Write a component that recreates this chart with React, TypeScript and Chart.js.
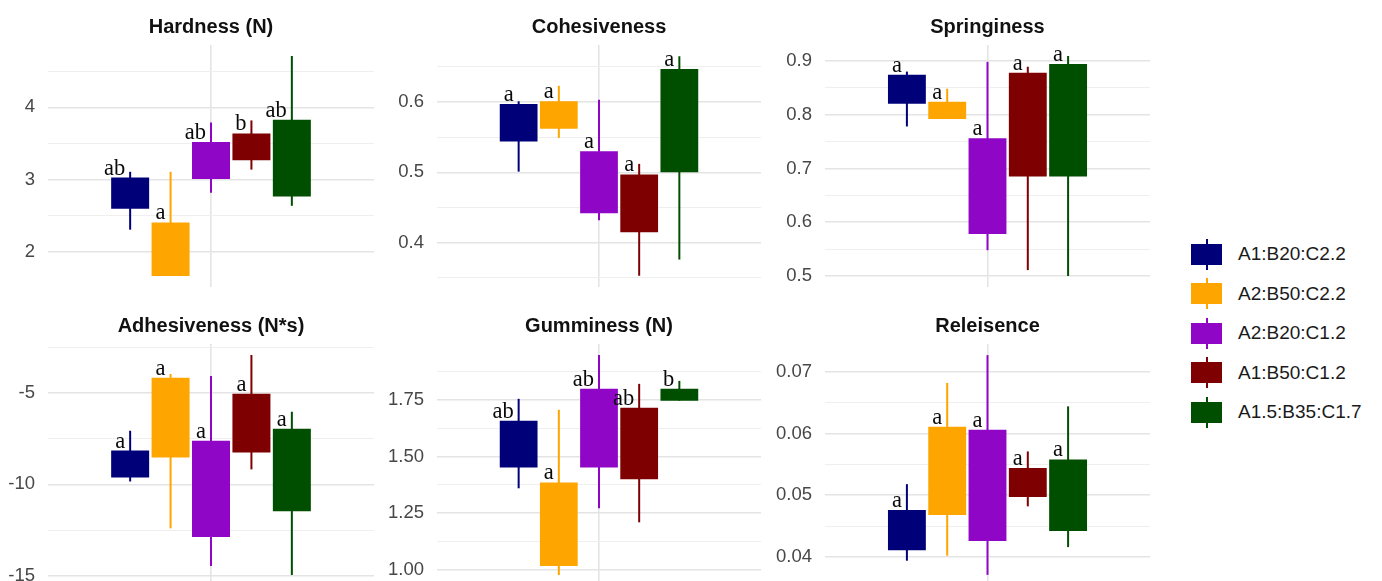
import React, { useEffect, useRef } from 'react';
import { Chart, registerables } from 'chart.js';

Chart.register(...registerables);

// ---------- data ----------
const groups = ['A1:B20:C2.2', 'A2:B50:C2.2', 'A2:B20:C1.2', 'A1:B50:C1.2', 'A1.5:B35:C1.7'];
const colors = ['#000078', '#FFA500', '#8F06C6', '#7F0000', '#004F00'];

const hardnessBox = [[2.60, 3.03], [1.67, 2.41], [3.01, 3.52], [3.27, 3.64], [2.77, 3.83]];
const hardnessWhisker = [[2.31, 3.11], [1.67, 3.11], [2.82, 3.79], [3.14, 3.82], [2.64, 4.71]];
const hardnessLetters = ['ab', 'a', 'ab', 'b', 'ab'];
const hardnessTicks = [2, 3, 4];
const hardnessTickLabels = ['2', '3', '4'];
const hardnessMinor = [2.5, 3.5, 4.5];
const hardnessRange = [1.518, 4.862];

const cohesBox = [[0.544, 0.597], [0.562, 0.601], [0.442, 0.530], [0.415, 0.497], [0.500, 0.647]];
const cohesWhisker = [[0.501, 0.601], [0.549, 0.623], [0.432, 0.603], [0.353, 0.512], [0.376, 0.665]];
const cohesLetters = ['a', 'a', 'a', 'a', 'a'];
const cohesTicks = [0.4, 0.5, 0.6];
const cohesTickLabels = ['0.4', '0.5', '0.6'];
const cohesMinor = [0.35, 0.45, 0.55, 0.65];
const cohesRange = [0.337, 0.681];

const springBox = [[0.820, 0.874], [0.792, 0.824], [0.578, 0.756], [0.685, 0.878], [0.685, 0.894]];
const springWhisker = [[0.778, 0.880], [0.792, 0.848], [0.548, 0.898], [0.511, 0.889], [0.500, 0.909]];
const springLetters = ['a', 'a', 'a', 'a', 'a'];
const springTicks = [0.5, 0.6, 0.7, 0.8, 0.9];
const springTickLabels = ['0.5', '0.6', '0.7', '0.8', '0.9'];
const springMinor = [0.55, 0.65, 0.75, 0.85];
const springRange = [0.4796, 0.9294];

const adhesBox = [[-9.62, -8.15], [-8.53, -4.18], [-12.88, -7.61], [-8.26, -5.05], [-11.47, -6.96]];
const adhesWhisker = [[-9.84, -7.07], [-12.4, -3.97], [-14.46, -4.08], [-9.18, -2.93], [-14.95, -6.03]];
const adhesLetters = ['a', 'a', 'a', 'a', 'a'];
const adhesTicks = [-15, -10, -5];
const adhesTickLabels = ['-15', '-10', '-5'];
const adhesMinor = [-12.5, -7.5, -2.5];
const adhesRange = [-15.55, -2.33];

const gumBox = [[1.452, 1.658], [1.018, 1.386], [1.452, 1.798], [1.40, 1.715], [1.746, 1.798]];
const gumWhisker = [[1.36, 1.754], [0.978, 1.706], [1.272, 1.947], [1.21, 1.82], [1.746, 1.833]];
const gumLetters = ['ab', 'a', 'ab', 'ab', 'b'];
const gumTicks = [1.0, 1.25, 1.5, 1.75];
const gumTickLabels = ['1.00', '1.25', '1.50', '1.75'];
const gumMinor = [1.125, 1.375, 1.625, 1.875];
const gumRange = [0.9296, 1.9955];

const relBox = [[0.0411, 0.0476], [0.0468, 0.0611], [0.0426, 0.0606], [0.0497, 0.0544], [0.0442, 0.0558]];
const relWhisker = [[0.0394, 0.0518], [0.0402, 0.0682], [0.0371, 0.0727], [0.0482, 0.0571], [0.0416, 0.0644]];
const relLetters = ['a', 'a', 'a', 'a', 'a'];
const relTicks = [0.04, 0.05, 0.06, 0.07];
const relTickLabels = ['0.04', '0.05', '0.06', '0.07'];
const relMinor = [0.045, 0.055, 0.065];
const relRange = [0.0353, 0.0745];

// ---------- layout ----------
const SANS = '"Liberation Sans", Arial, sans-serif';
const SERIF = '"Liberation Serif", "Times New Roman", serif';
const MAJOR = '#E4E4E4';
const MINOR = '#EFEFEF';

type PanelDef = {
  title: string;
  box: number[][];
  whisker: number[][];
  letters: string[];
  ticks: number[];
  tickLabels: string[];
  minor: number[];
  range: number[];
  left: number;
  top: number;
  width: number;
  axisW: number;
  plotW: number;
};

const COLS = [
  { left: 0, width: 380, axisW: 48, plotW: 326 },
  { left: 380, width: 386, axisW: 57, plotW: 324 },
  { left: 766, width: 390, axisW: 59, plotW: 325 },
];
const ROWS = [0, 299];
const PANEL_H = 290;

const panels: PanelDef[] = [
  { title: 'Hardness (N)', box: hardnessBox, whisker: hardnessWhisker, letters: hardnessLetters, ticks: hardnessTicks, tickLabels: hardnessTickLabels, minor: hardnessMinor, range: hardnessRange, top: ROWS[0], ...COLS[0] },
  { title: 'Cohesiveness', box: cohesBox, whisker: cohesWhisker, letters: cohesLetters, ticks: cohesTicks, tickLabels: cohesTickLabels, minor: cohesMinor, range: cohesRange, top: ROWS[0], ...COLS[1] },
  { title: 'Springiness', box: springBox, whisker: springWhisker, letters: springLetters, ticks: springTicks, tickLabels: springTickLabels, minor: springMinor, range: springRange, top: ROWS[0], ...COLS[2] },
  { title: 'Adhesiveness (N*s)', box: adhesBox, whisker: adhesWhisker, letters: adhesLetters, ticks: adhesTicks, tickLabels: adhesTickLabels, minor: adhesMinor, range: adhesRange, top: ROWS[1], ...COLS[0] },
  { title: 'Gumminess (N)', box: gumBox, whisker: gumWhisker, letters: gumLetters, ticks: gumTicks, tickLabels: gumTickLabels, minor: gumMinor, range: gumRange, top: ROWS[1], ...COLS[1] },
  { title: 'Releisence', box: relBox, whisker: relWhisker, letters: relLetters, ticks: relTicks, tickLabels: relTickLabels, minor: relMinor, range: relRange, top: ROWS[1], ...COLS[2] },
];

function Panel({ p }: { p: PanelDef }) {
  const ref = useRef<HTMLCanvasElement | null>(null);
  useEffect(() => {
    if (!ref.current) return;
    const isMajor = (v: number) => p.ticks.some((t) => Math.abs(t - v) < 1e-9);
    const allTicks = [...p.ticks, ...p.minor].sort((a, b) => a - b);

    const boxPlugin = {
      id: 'boxExtras',
      beforeDatasetsDraw(chart: any) {
        const ctx = chart.ctx;
        const y = chart.scales.y;
        ctx.save();
        p.whisker.forEach((w, i) => {
          const el = chart.getDatasetMeta(i).data[0];
          ctx.strokeStyle = colors[i];
          ctx.lineWidth = 2;
          ctx.beginPath();
          ctx.moveTo(el.x, y.getPixelForValue(w[0]));
          ctx.lineTo(el.x, y.getPixelForValue(w[1]));
          ctx.stroke();
        });
        ctx.restore();
      },
      afterDatasetsDraw(chart: any) {
        const ctx = chart.ctx;
        const y = chart.scales.y;
        ctx.save();
        ctx.font = `22.5px ${SERIF}`;
        ctx.textAlign = 'right';
        ctx.textBaseline = 'alphabetic';
        ctx.fillStyle = '#0A0A0A';
        p.letters.forEach((t, i) => {
          const el = chart.getDatasetMeta(i).data[0];
          ctx.fillText(t, el.x - 5, y.getPixelForValue(p.box[i][1]) - 3);
        });
        ctx.restore();
      },
    };

    const chart = new Chart(ref.current, {
      type: 'bar',
      data: {
        labels: [''],
        datasets: groups.map((g, i) => ({
          label: g,
          data: [p.box[i]] as any,
          backgroundColor: colors[i],
          borderWidth: 0,
          categoryPercentage: 0.62,
          barPercentage: 0.94,
        })),
      },
      options: {
        responsive: false,
        animation: false,
        layout: { padding: { left: 0, right: p.width - p.axisW - p.plotW, top: 0, bottom: 3 } },
        plugins: {
          legend: { display: false },
          tooltip: { enabled: false },
          title: {
            display: true,
            text: p.title,
            fullSize: false,
            color: '#111111',
            font: { family: SANS, size: 20, weight: 'bold', lineHeight: 1.2 },
            padding: { top: 15, bottom: 6 },
          },
        },
        scales: {
          x: {
            type: 'category',
            offset: true,
            grid: { offset: false, color: MAJOR, lineWidth: 1.6, drawTicks: false },
            border: { display: false },
            ticks: { display: false },
          },
          y: {
            type: 'linear',
            min: p.range[0],
            max: p.range[1],
            bounds: 'data',
            afterBuildTicks: (s: any) => {
              s.ticks = allTicks.map((v) => ({ value: v }));
            },
            afterFit: (s: any) => {
              s.width = p.axisW;
              s.paddingTop = 0;
              s.paddingBottom = 0;
            },
            grid: {
              drawTicks: false,
              color: (c: any) => (c.tick && isMajor(c.tick.value) ? MAJOR : MINOR),
              lineWidth: (c: any) => (c.tick && isMajor(c.tick.value) ? 1.6 : 1.1),
            },
            border: { display: false },
            ticks: {
              padding: 13,
              color: '#474747',
              font: { family: SANS, size: 18.5 },
              autoSkip: false,
              callback: (v: any) => {
                const idx = p.ticks.findIndex((t) => Math.abs(t - Number(v)) < 1e-9);
                return idx >= 0 ? p.tickLabels[idx] : '';
              },
            },
          },
        },
      } as any,
      plugins: [boxPlugin],
    });
    return () => chart.destroy();
  }, [p]);

  return (
    <canvas
      ref={ref}
      width={p.width}
      height={PANEL_H}
      style={{ position: 'absolute', left: p.left, top: p.top, width: p.width, height: PANEL_H }}
    />
  );
}

const LEGEND_X = 1191;
const LEGEND_Y0 = 254;
const LEGEND_STEP = 39.5;

export default function App() {
  return (
    <div
      style={{
        position: 'absolute',
        left: 0,
        top: 0,
        width: 1382,
        height: 581,
        overflow: 'hidden',
        background: '#ffffff',
      }}
    >
      {panels.map((p) => (
        <Panel key={p.title} p={p} />
      ))}
      {groups.map((g, i) => {
        const cy = LEGEND_Y0 + i * LEGEND_STEP;
        return (
          <div key={g}>
            <div
              style={{
                position: 'absolute',
                left: LEGEND_X + 14.5,
                top: cy - 15.5,
                width: 2,
                height: 31,
                background: colors[i],
              }}
            />
            <div
              style={{
                position: 'absolute',
                left: LEGEND_X,
                top: cy - 10.5,
                width: 31,
                height: 21,
                background: colors[i],
              }}
            />
            <div
              style={{
                position: 'absolute',
                left: 1238,
                top: cy - 12,
                height: 24,
                lineHeight: '24px',
                fontFamily: SANS,
                fontSize: 19,
                color: '#1A1A1A',
                whiteSpace: 'nowrap',
              }}
            >
              {g}
            </div>
          </div>
        );
      })}
    </div>
  );
}
